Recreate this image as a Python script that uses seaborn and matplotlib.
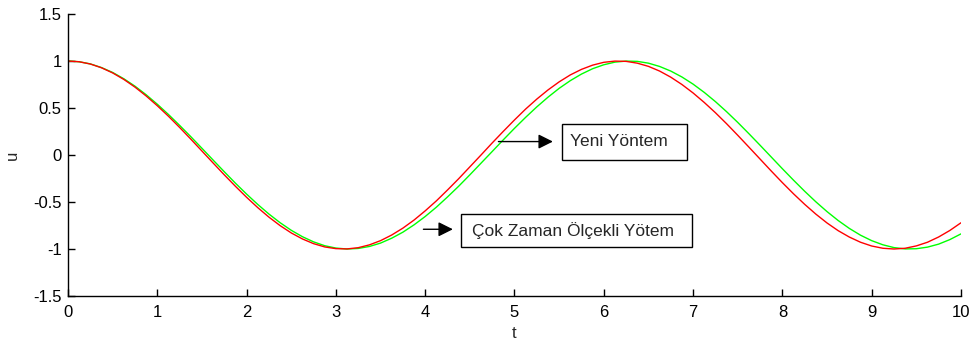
import matplotlib
matplotlib.use("Agg")
import matplotlib.pyplot as plt
import seaborn as sns
import pandas as pd
from matplotlib.patches import Rectangle

# time samples (step 0.125)
t = [i * 0.125 for i in range(81)]

# green curve: "Çok Zaman Ölçekli Yötem"
u_green = [1.000, 0.992, 0.969, 0.930, 0.878, 0.811, 0.732, 0.641, 0.540, 0.431,
           0.315, 0.195, 0.071, -0.054, -0.178, -0.300, -0.416, -0.526, -0.628, -0.720,
           -0.801, -0.869, -0.924, -0.965, -0.990, -1.000, -0.994, -0.973, -0.937, -0.885,
           -0.821, -0.743, -0.654, -0.555, -0.446, -0.332, -0.211, -0.087, 0.037, 0.162,
           0.284, 0.401, 0.512, 0.615, 0.709, 0.791, 0.861, 0.918, 0.960, 0.988,
           0.999, 0.996, 0.977, 0.942, 0.893, 0.830, 0.754, 0.666, 0.568, 0.461,
           0.347, 0.227, 0.104, -0.021, -0.146, -0.268, -0.386, -0.498, -0.602, -0.697,
           -0.781, -0.853, -0.911, -0.955, -0.985, -0.999, -0.997, -0.980, -0.948, -0.900,
           -0.839]

# red curve: "Yeni Yöntem"
u_red = [1.000, 0.992, 0.968, 0.928, 0.873, 0.804, 0.722, 0.628, 0.524, 0.412,
         0.293, 0.169, 0.042, -0.085, -0.211, -0.333, -0.450, -0.560, -0.661, -0.751,
         -0.829, -0.893, -0.943, -0.978, -0.996, -0.999, -0.986, -0.956, -0.911, -0.851,
         -0.778, -0.692, -0.594, -0.488, -0.372, -0.252, -0.126, 0.000, 0.128, 0.252,
         0.373, 0.489, 0.595, 0.692, 0.778, 0.852, 0.911, 0.956, 0.986, 0.999,
         0.996, 0.977, 0.943, 0.893, 0.828, 0.750, 0.660, 0.559, 0.450, 0.333,
         0.210, 0.084, -0.043, -0.170, -0.294, -0.413, -0.525, -0.629, -0.723, -0.805,
         -0.873, -0.928, -0.968, -0.992, -1.000, -0.992, -0.967, -0.928, -0.872, -0.803,
         -0.721]

xticks = list(range(0, 11))
yticks = [-1.5, -1, -0.5, 0, 0.5, 1, 1.5]
ytick_labels = ["-1.5", "-1", "-0.5", "0", "0.5", "1", "1.5"]

df = pd.DataFrame({"t": t, "green": u_green, "red": u_red})

sns.set_style("white")
plt.rcParams["font.family"] = ["Liberation Sans", "DejaVu Sans"]

fig = plt.figure(figsize=(9.76, 3.44), dpi=100)
ax = fig.add_axes([0.0697, 0.1395, 0.9149, 0.8198])

sns.lineplot(data=df, x="t", y="green", color="#00ff00", linewidth=1.0, ax=ax)
sns.lineplot(data=df, x="t", y="red", color="#ff0000", linewidth=1.0, ax=ax)

ax.set_xlim(0, 10)
ax.set_ylim(-1.5, 1.5)
ax.set_xticks(xticks)
ax.set_xticklabels([str(v) for v in xticks])
ax.set_yticks(yticks)
ax.set_yticklabels(ytick_labels)
ax.tick_params(direction="in", length=5, width=1, color="black", labelsize=12,
               labelcolor="black", bottom=True, left=True)
ax.tick_params(axis="x", pad=6.5)
ax.tick_params(axis="y", pad=4.5)
for side in ["top", "right"]:
    ax.spines[side].set_visible(False)
for side in ["left", "bottom"]:
    ax.spines[side].set_color("black")
    ax.spines[side].set_linewidth(1.0)

ax.set_xlabel("t", fontsize=12, labelpad=4)
ax.set_ylabel("u", fontsize=12, labelpad=10)

# text boxes with arrows
ax.add_patch(Rectangle((5.53, -0.048), 1.40, 0.381, fill=False, edgecolor="black",
                       linewidth=1.0, clip_on=False))
ax.text(5.62, 0.143, "Yeni Yöntem", fontsize=12.5, va="center", ha="left")
ax.annotate("", xy=(5.43, 0.143), xytext=(4.82, 0.143),
            arrowprops=dict(arrowstyle="-|>", color="black", lw=1.0,
                            mutation_scale=22, shrinkA=0, shrinkB=0))

ax.add_patch(Rectangle((4.40, -0.979), 2.59, 0.349, fill=False, edgecolor="black",
                       linewidth=1.0, clip_on=False))
ax.text(4.52, -0.80, "Çok Zaman Ölçekli Yötem", fontsize=12.5, va="center", ha="left")
ax.annotate("", xy=(4.31, -0.79), xytext=(3.98, -0.79),
            arrowprops=dict(arrowstyle="-|>", color="black", lw=1.0,
                            mutation_scale=22, shrinkA=0, shrinkB=0))

fig.savefig("out.png", dpi=100)
